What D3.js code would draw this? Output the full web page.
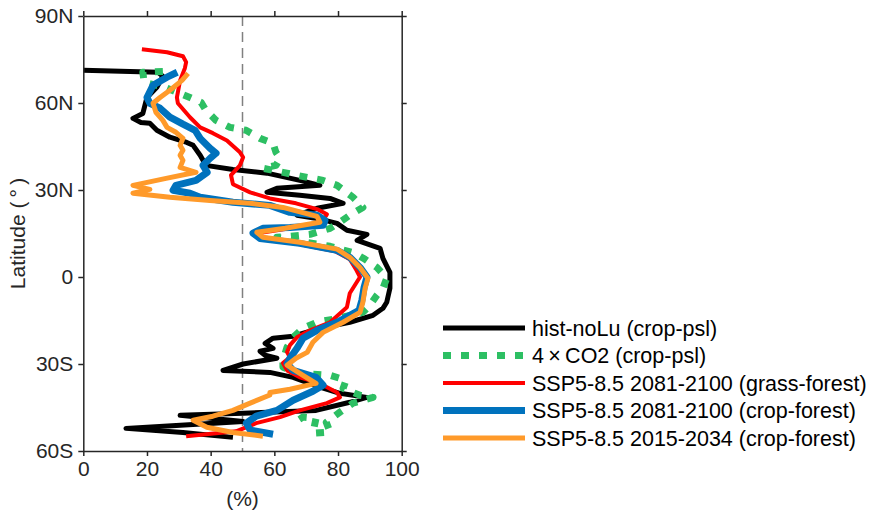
<!DOCTYPE html>
<html>
<head>
<meta charset="utf-8">
<script src="https://cdn.jsdelivr.net/npm/d3@7"></script>
<style>
  html, body { margin: 0; padding: 0; background: #fff; }
  svg { display: block; font-family: "Liberation Sans", Arial, sans-serif; }
</style>
</head>
<body>
<svg id="chart" width="877" height="512"></svg>
<script>
// latitude (deg, N positive) and percentage values
const histLat = [71.3, 70.6, 69.2, 65.4, 61.9, 56.4, 54.7, 53.3, 53.0, 50.6, 48.2, 46.4, 45.4, 42.0, 38.5, 37.1, 35.8, 33.3, 31.6, 30.6, 29.2, 28.2, 27.1, 25.4, 23.7, 21.3, 20.2, 18.5, 16.1, 14.7, 12.6, 9.9, 6.4, 1.6, -3.9, -8.7, -10.8, -13.2, -15.6, -17.7, -20.4, -21.1, -22.9, -24.6, -25.6, -27.0, -28.0, -30.0, -32.2, -32.9, -34.6, -38.0, -40.1, -41.5, -43.2, -46.0, -47.0, -47.7, -49.8, -52.2, -53.6, -55.3];
const histVal = [0, 23.5, 25.0, 23.1, 20.0, 18.7, 15.6, 18.1, 20.9, 23.1, 27.2, 32.5, 34.5, 36.7, 38.5, 47.0, 57.7, 68.0, 74.3, 60.8, 57.7, 68.0, 77.5, 81.6, 73.4, 67.1, 73.4, 79.7, 82.8, 89.1, 86.0, 93.2, 94.1, 96.3, 96.3, 95.3, 94.1, 91.0, 83.7, 74.3, 65.9, 59.6, 57.1, 59.6, 55.5, 57.1, 60.8, 50.2, 43.9, 58.6, 65.9, 74.3, 80.6, 89.0, 83.7, 73.1, 50.2, 30.4, 50.2, 13.4, 31.3, 47.0];

const co2Lat = [70.9, 70.6, 67.1, 65.4, 63.3, 61.9, 60.2, 57.5, 54.0, 51.6, 50.6, 47.8, 46.1, 43.0, 40.9, 38.5, 37.5, 36.1, 35.1, 34.0, 33.3, 31.6, 27.5, 24.0, 21.3, 18.9, 16.8, 14.7, 14.0, 13.7, 12.3, 10.6, 8.2, 6.1, 3.3, -0.4, -3.9, -6.3, -9.8, -12.2, -14.3, -15.6, -17.7, -20.8, -24.2, -28.7, -31.1, -33.2, -33.9, -35.6, -38.4, -40.8, -41.5, -43.5, -46.6, -50.1, -53.5, -53.9, -48.7, -48.3, -50.4];
const co2Val = [25.0, 18.7, 19.1, 25.7, 30.4, 33.5, 37.0, 38.5, 41.7, 46.1, 51.1, 55.5, 59.6, 60.5, 61.8, 60.5, 56.4, 62.7, 66.8, 72.1, 75.3, 79.7, 84.7, 87.8, 83.7, 80.6, 77.5, 71.2, 64.9, 60.8, 68.0, 77.5, 85.3, 88.5, 92.2, 95.3, 94.1, 92.2, 90.0, 87.8, 79.7, 73.4, 69.0, 65.9, 64.0, 62.7, 62.7, 68.0, 77.5, 82.5, 81.6, 86.9, 91.0, 84.7, 80.6, 76.3, 77.5, 72.1, 73.1, 69.0, 66.0];

const grassLat = [78.5, 77.5, 76.1, 74.1, 72.0, 67.8, 61.9, 59.9, 55.1, 51.6, 49.6, 47.1, 43.0, 41.3, 38.5, 35.1, 32.0, 29.2, 27.1, 25.4, 23.3, 21.6, 18.9, 16.8, 15.1, 13.3, 11.3, 8.9, 6.1, 2.3, 0, -5.6, -10.4, -15.6, -18.4, -20.8, -23.5, -25.9, -27.7, -29.7, -32.2, -34.6, -36.7, -39.8, -41.5, -43.5, -46.0, -48.3, -50.4, -53.2, -54.9];
const grassVal = [18.4, 26.3, 31.3, 32.3, 31.9, 30.4, 29.4, 29.7, 33.5, 36.7, 40.7, 45.1, 49.2, 50.2, 49.2, 46.4, 47.0, 52.4, 58.6, 66.8, 73.7, 76.5, 74.9, 64.9, 54.8, 56.1, 68.0, 79.1, 83.7, 85.8, 86.9, 83.7, 82.8, 77.5, 71.2, 67.1, 64.9, 64.0, 64.9, 62.7, 64.0, 68.0, 74.3, 79.7, 80.6, 76.5, 68.0, 61.8, 54.3, 48.0, 32.3];

const crop2081Lat = [70.6, 68.9, 66.1, 61.9, 59.9, 58.2, 55.1, 52.7, 50.6, 47.8, 44.4, 42.7, 40.9, 38.5, 36.1, 33.3, 31.6, 29.9, 28.9, 27.5, 25.8, 24.7, 22.3, 21.3, 19.5, 17.8, 17.1, 16.8, 15.1, 13.3, 11.6, 9.2, 6.8, 3.3, 0.0, -3.5, -8.0, -11.5, -15.6, -18.4, -21.1, -24.6, -28.0, -29.9, -32.2, -34.6, -37.3, -39.4, -42.5, -46.0, -48.0, -50.4, -52.8, -54.2];
const crop2081Val = [29.5, 26.3, 21.9, 20.0, 20.9, 24.1, 27.2, 31.3, 35.1, 36.7, 39.8, 41.7, 39.8, 37.6, 38.9, 35.4, 29.1, 28.2, 33.5, 36.7, 47.0, 58.6, 64.9, 73.4, 75.9, 75.3, 64.9, 56.4, 53.3, 55.5, 68.0, 79.7, 83.7, 86.9, 89.1, 88.2, 87.5, 86.6, 79.7, 73.4, 69.0, 67.1, 64.9, 64.0, 65.9, 73.1, 75.3, 72.1, 65.9, 60.8, 54.3, 51.2, 52.4, 59.6];

const crop2015Lat = [70.2, 67.8, 64.4, 61.9, 59.9, 56.8, 54.0, 51.6, 49.9, 47.8, 45.4, 43.7, 42.0, 40.2, 37.8, 36.1, 34.0, 31.6, 30.2, 28.9, 27.5, 26.4, 25.4, 24.0, 20.9, 18.9, 16.8, 15.4, 13.7, 12.0, 9.6, 6.8, 3.3, -0.4, -3.9, -8.7, -12.2, -15.6, -19.1, -22.5, -26.0, -28.0, -30.4, -33.9, -36.7, -38.7, -39.8, -40.7, -43.5, -46.0, -48.0, -49.4, -51.8, -53.6, -54.9];
const crop2015Val = [32.9, 31.0, 27.2, 24.1, 21.9, 22.8, 25.0, 26.3, 29.1, 31.3, 30.4, 31.3, 30.4, 31.3, 30.4, 35.4, 26.0, 15.6, 20.9, 15.6, 27.2, 39.8, 52.4, 62.7, 73.4, 74.3, 63.4, 54.5, 56.4, 68.0, 79.7, 83.7, 86.9, 89.4, 88.5, 87.8, 86.9, 81.6, 75.3, 72.1, 70.3, 66.8, 64.0, 69.0, 73.1, 64.9, 58.6, 58.6, 52.4, 47.0, 40.7, 34.5, 38.8, 47.0, 56.4];

const seriesNames = ["hist-noLu (crop-psl)", "4\u2009\u00d7\u2009CO2 (crop-psl)", "SSP5-8.5 2081-2100 (grass-forest)", "SSP5-8.5 2081-2100 (crop-forest)", "SSP5-8.5 2015-2034 (crop-forest)"];
const latTicks = [90, 60, 30, 0, -30, -60];
const latTickLabels = ["90N", "60N", "30N", "0", "30S", "60S"];
const pctTicks = [0, 20, 40, 60, 80, 100];

const series = [
  { name: seriesNames[0], lat: histLat, val: histVal, color: "#000000", width: 5 },
  { name: seriesNames[1], lat: co2Lat, val: co2Val, color: "#2dbf63", width: 7, dash: "8,10" },
  { name: seriesNames[2], lat: grassLat, val: grassVal, color: "#ff0000", width: 4 },
  { name: seriesNames[3], lat: crop2081Lat, val: crop2081Val, color: "#0072bd", width: 7 },
  { name: seriesNames[4], lat: crop2015Lat, val: crop2015Val, color: "#ff9a2a", width: 5 }
];

const svg = d3.select("#chart");
const axisColor = "#262626";
const fontSize = "21px";

const x = d3.scaleLinear().domain([0, 100]).range([83.3, 401.7]);
const y = d3.scaleLinear().domain([-60, 90]).range([451, 16]);

// 50% reference line
svg.append("line")
  .attr("x1", x(50)).attr("x2", x(50))
  .attr("y1", y(90)).attr("y2", y(-60))
  .attr("stroke", "#808080")
  .attr("stroke-width", 1.5)
  .attr("stroke-dasharray", "10,6");

// series lines
const line = d3.line()
  .x(d => x(d[1]))
  .y(d => y(d[0]));

series.forEach(s => {
  const pts = s.lat.map((l, i) => [l, s.val[i]]);
  svg.append("path")
    .datum(pts)
    .attr("d", line)
    .attr("fill", "none")
    .attr("stroke", s.color)
    .attr("stroke-width", s.width)
    .attr("stroke-linejoin", "round")
    .attr("stroke-dasharray", s.dash || null);
});

// axes
function styleAxis(g) {
  g.selectAll(".domain").attr("stroke", axisColor).attr("stroke-width", 1.5);
  g.selectAll(".tick line").attr("stroke", axisColor).attr("stroke-width", 1.5);
  g.selectAll(".tick text").attr("fill", axisColor)
    .style("font-size", fontSize).style("font-family", "'Liberation Sans', Arial, sans-serif");
}

svg.append("g")
  .attr("transform", `translate(${x(0)},0)`)
  .call(d3.axisLeft(y).tickValues(latTicks).tickSize(5).tickSizeOuter(0).tickPadding(5)
    .tickFormat((d, i) => latTickLabels[i]))
  .call(styleAxis);

svg.append("g")
  .attr("transform", `translate(${x(100)},0)`)
  .call(d3.axisRight(y).tickValues(latTicks).tickSize(5).tickSizeOuter(0).tickFormat(""))
  .call(styleAxis);

svg.append("g")
  .attr("transform", `translate(0,${y(-60)})`)
  .call(d3.axisBottom(x).tickValues(pctTicks).tickSize(5).tickSizeOuter(0).tickPadding(5))
  .call(styleAxis);

svg.append("g")
  .attr("transform", `translate(0,${y(90)})`)
  .call(d3.axisTop(x).tickValues(pctTicks).tickSize(5).tickSizeOuter(0).tickFormat(""))
  .call(styleAxis);

// axis labels
svg.append("text")
  .attr("transform", `translate(25,${(y(90) + y(-60)) / 2}) rotate(-90)`)
  .attr("text-anchor", "middle")
  .attr("fill", axisColor)
  .style("font-size", fontSize)
  .text("Latitude (\u2009\u00b0\u2009)");

svg.append("text")
  .attr("x", x(50))
  .attr("y", 506)
  .attr("text-anchor", "middle")
  .attr("fill", axisColor)
  .style("font-size", fontSize)
  .text("(%)");

// legend
const legend = svg.append("g");
series.forEach((s, i) => {
  const yy = 328 + i * 27.5;
  legend.append("line")
    .attr("x1", 443).attr("x2", 525)
    .attr("y1", yy).attr("y2", yy)
    .attr("stroke", s.color)
    .attr("stroke-width", s.width)
    .attr("stroke-dasharray", s.dash || null);
  legend.append("text")
    .attr("x", 532)
    .attr("y", yy)
    .attr("dy", "0.35em")
    .attr("fill", "#000")
    .style("font-size", "21.5px")
    .text(s.name);
});
</script>
</body>
</html>
